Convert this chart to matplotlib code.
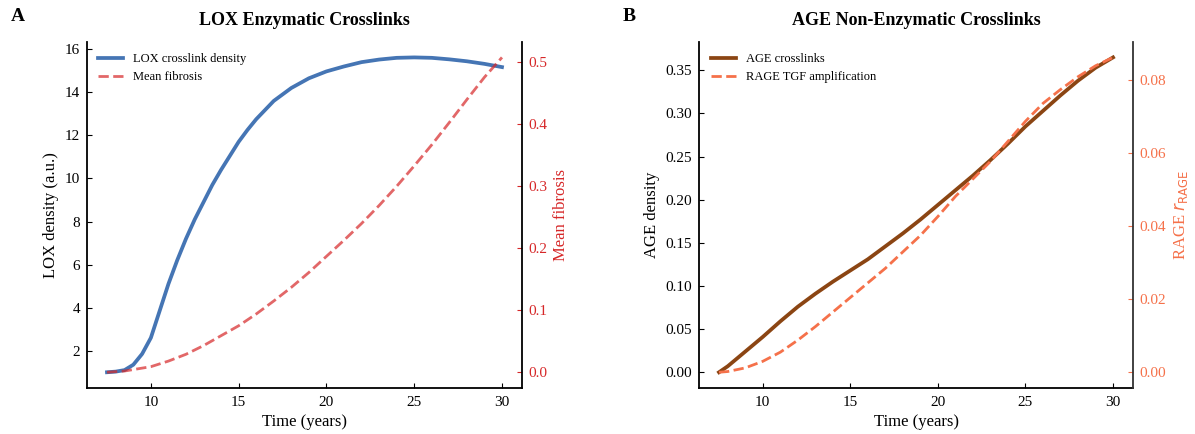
import matplotlib
matplotlib.use("Agg")
import matplotlib.pyplot as plt

# time axis (years)
t_lox = [7.5, 8.0, 8.5, 9.0, 9.5, 10.0, 10.5, 11.0, 11.5, 12.0, 12.5, 13.0, 13.5, 14.0,
         14.5, 15.0, 15.5, 16.0, 17.0, 18.0, 19.0, 20.0, 21.0, 22.0, 23.0, 24.0, 25.0,
         26.0, 27.0, 28.0, 29.0, 30.0]
lox_density = [1.0, 1.03, 1.1, 1.35, 1.85, 2.6, 3.85, 5.1, 6.2, 7.2, 8.1, 8.9, 9.7, 10.4,
               11.05, 11.7, 12.25, 12.75, 13.6, 14.2, 14.65, 14.97, 15.2, 15.4, 15.52,
               15.6, 15.62, 15.6, 15.53, 15.44, 15.32, 15.17]

t_fib = [7.5, 8.5, 10, 11, 12, 13, 14, 15, 16, 17, 18, 19, 20, 21, 22, 23, 24, 25, 26,
         27, 28, 29, 30]
mean_fibrosis = [0.0, 0.002, 0.009, 0.018, 0.029, 0.043, 0.059, 0.075, 0.094, 0.115,
                 0.137, 0.161, 0.187, 0.213, 0.24, 0.269, 0.30, 0.333, 0.367, 0.403,
                 0.44, 0.476, 0.508]

t_age = [7.5, 8.0, 9, 10, 11, 12, 13, 14, 15, 16, 17, 18, 19, 20, 21, 22, 23, 24, 25,
         26, 27, 28, 29, 30]
age_density = [0.0, 0.007, 0.024, 0.041, 0.059, 0.076, 0.091, 0.105, 0.118, 0.131, 0.146,
               0.161, 0.177, 0.194, 0.211, 0.228, 0.246, 0.265, 0.285, 0.303, 0.321,
               0.338, 0.353, 0.365]
rage_amp = [0.0, 0.0002, 0.0012, 0.003, 0.0055, 0.0088, 0.0125, 0.0165, 0.0205, 0.0245,
            0.0285, 0.033, 0.0375, 0.0427, 0.0482, 0.053, 0.0578, 0.0633, 0.0688, 0.0737,
            0.0775, 0.081, 0.084, 0.0863]

plt.rcParams['font.family'] = ['Liberation Serif', 'DejaVu Serif']
plt.rcParams['xtick.direction'] = 'in'
plt.rcParams['ytick.direction'] = 'in'
plt.rcParams['xtick.major.pad'] = 5.5
plt.rcParams['ytick.major.pad'] = 5
plt.rcParams['axes.linewidth'] = 1.3

blue = '#4575b4'
red = '#d62728'
brown = '#8B4513'
orange = '#f5714a'

fig = plt.figure(figsize=(11.95, 4.34), dpi=100)
ax1 = fig.add_axes([0.073, 0.106, 0.3636, 0.798])
ax2 = fig.add_axes([0.5852, 0.106, 0.3627, 0.798])

# --- panel A
l1, = ax1.plot(t_lox, lox_density, color=blue, lw=2.7, label='LOX crosslink density')
ax1.set_xlabel('Time (years)', fontsize=12)
ax1.set_ylabel('LOX density (a.u.)', fontsize=12)
ax1.set_title('LOX Enzymatic Crosslinks', fontsize=13, fontweight='bold', pad=12)
ax1.spines['top'].set_visible(False)
ax1.spines['right'].set_visible(False)
ax1.tick_params(labelsize=11)

ax1b = ax1.twinx()
l2, = ax1b.plot(t_fib, mean_fibrosis, color=red, alpha=0.7, lw=2, ls='--',
                label='Mean fibrosis')
ax1b.set_ylabel('Mean fibrosis', color=red, fontsize=12)
ax1b.tick_params(axis='y', colors=red, labelsize=11)
ax1b.spines['right'].set_color('black')
ax1b.spines['top'].set_visible(False)
ax1b.spines['left'].set_visible(False)
ax1b.spines['bottom'].set_visible(False)
ax1.legend(handles=[l1, l2], loc='upper left', frameon=False, fontsize=9)

# --- panel B
l3, = ax2.plot(t_age, age_density, color=brown, lw=2.7, label='AGE crosslinks')
ax2.set_xlabel('Time (years)', fontsize=12)
ax2.set_ylabel('AGE density', fontsize=12)
ax2.set_title('AGE Non-Enzymatic Crosslinks', fontsize=13, fontweight='bold', pad=12)
ax2.spines['top'].set_visible(False)
ax2.spines['right'].set_visible(False)
ax2.tick_params(labelsize=11)

ax2b = ax2.twinx()
l4, = ax2b.plot(t_age, rage_amp, color=orange, lw=2, ls='--', label='RAGE TGF amplification')
ax2b.set_ylabel(r'RAGE $r_{\mathrm{RAGE}}$', color=orange, fontsize=12)
ax2b.tick_params(axis='y', colors=orange, labelsize=11)
ax2b.spines['right'].set_color('#333333')
ax2b.spines['top'].set_visible(False)
ax2b.spines['left'].set_visible(False)
ax2b.spines['bottom'].set_visible(False)
ax2.legend(handles=[l3, l4], loc='upper left', frameon=False, fontsize=9)

fig.text(0.009, 0.962, 'A', fontsize=14, fontweight='bold', va='center')
fig.text(0.521, 0.962, 'B', fontsize=14, fontweight='bold', va='center')

fig.savefig('out.png', dpi=100)
